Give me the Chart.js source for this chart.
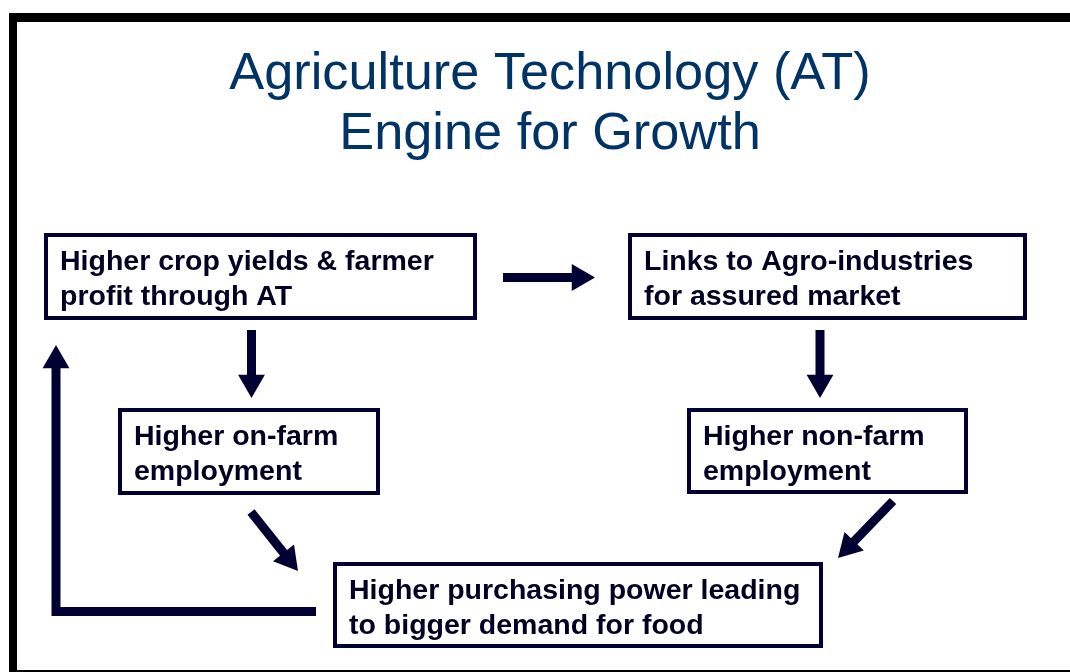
<!DOCTYPE html>
<html>
<head>
<meta charset="utf-8">
<script src="https://cdn.jsdelivr.net/npm/chart.js"></script>
<style>
  html, body { margin: 0; padding: 0; overflow: hidden; background: #fff; }
  /* cadre noir autour de la diapo */
  #cadre { position: absolute; left: 9px; top: 13px; width: 1080px; height: 648px;
           border-top: 9px solid #000; border-left: 8px solid #000; border-bottom: 2px solid #000; }
  #schema { position: absolute; left: 0; top: 0; }
</style>
</head>
<body>
<div id="cadre"></div>
<canvas id="schema" width="1070" height="672"></canvas>
<script>
// titre
const titleLines = ['Agriculture Technology (AT)', 'Engine for Growth'];

// boites du schema (texte + coins, en unites des axes)
const boxLabels = [
  ['Higher crop yields & farmer', 'profit through AT'],
  ['Links to Agro-industries', 'for assured market'],
  ['Higher on-farm', 'employment'],
  ['Higher non-farm', 'employment'],
  ['Higher purchasing power leading', 'to bigger demand for food']
];
const boxLeft = [46, 630, 120, 689, 335];
const boxRight = [475, 1025, 378, 966, 821];
const boxTop = [235, 235, 410, 410, 564];
const boxBottom = [318, 318, 493, 492, 646];

// fleches : liste de sommets, le dernier est la pointe
const arrowPaths = [
  [[503, 277.5], [595, 277.5]],
  [[251.5, 330], [251.5, 398]],
  [[820, 330], [820, 398]],
  [[251, 512], [298, 571]],
  [[893, 501], [838, 558]],
  [[316, 611.5], [56, 611.5], [56, 345]]
];

const navy = '#000033';
const headRadius = 15.5;

const datasets = [];

// contours des boites
boxLeft.forEach((l, i) => {
  datasets.push({
    data: [
      {x: l, y: boxTop[i]},
      {x: boxRight[i], y: boxTop[i]},
      {x: boxRight[i], y: boxBottom[i]},
      {x: l, y: boxBottom[i]},
      {x: l, y: boxTop[i]}
    ],
    showLine: true,
    borderColor: navy,
    borderWidth: 4,
    borderCapStyle: 'square',
    borderJoinStyle: 'miter',
    pointRadius: 0
  });
});

// fleches : trait + triangle au bout
arrowPaths.forEach((path) => {
  const n = path.length;
  const [tx, ty] = path[n - 1];
  const [px, py] = path[n - 2];
  const len = Math.hypot(tx - px, ty - py);
  const ux = (tx - px) / len;
  const uy = (ty - py) / len;
  const pts = path.slice(0, n - 1).map((p) => ({x: p[0], y: p[1]}));
  // centre du triangle recule d'un rayon par rapport a la pointe
  pts.push({x: tx - ux * headRadius, y: ty - uy * headRadius});
  const angle = Math.atan2(ux, -uy) * 180 / Math.PI;
  datasets.push({
    data: pts,
    showLine: true,
    borderColor: navy,
    borderWidth: 9,
    borderJoinStyle: 'miter',
    borderCapStyle: 'butt',
    pointStyle: 'triangle',
    pointRadius: pts.map((p, i) => (i === pts.length - 1 ? headRadius : 0)),
    pointRotation: angle,
    pointBackgroundColor: navy,
    pointBorderWidth: 0
  });
});

// texte dans les boites
const textesBoites = {
  id: 'textesBoites',
  afterDatasetsDraw(chart) {
    const ctx = chart.ctx;
    const xs = chart.scales.x;
    const ys = chart.scales.y;
    ctx.save();
    ctx.font = 'bold 28.5px Arial, "Liberation Sans", sans-serif';
    ctx.fillStyle = '#000022';
    ctx.textBaseline = 'alphabetic';
    boxLabels.forEach((lines, i) => {
      const x0 = xs.getPixelForValue(boxLeft[i]) + 14;
      const y0 = ys.getPixelForValue(boxTop[i]) + 35;
      lines.forEach((line, j) => ctx.fillText(line, x0, y0 + j * 34.5));
    });
    ctx.restore();
  }
};

const config = {
  type: 'scatter',
  data: {datasets: datasets},
  options: {
    responsive: false,
    animation: false,
    events: [],
    layout: {autoPadding: false, padding: {left: 30}},
    plugins: {
      legend: {display: false},
      tooltip: {enabled: false},
      title: {
        display: true,
        text: titleLines,
        color: '#003366',
        font: {family: 'Arial, "Liberation Sans", sans-serif', size: 52.3, weight: 'normal', lineHeight: '60px'},
        padding: {top: 45, bottom: 35}
      }
    },
    scales: {
      x: {type: 'linear', display: false, min: 30, max: 1070},
      y: {display: false, min: 200, max: 672, reverse: true}
    }
  },
  plugins: [textesBoites]
};

const ctx = document.getElementById('schema').getContext('2d');
const schema = new Chart(ctx, config);
</script>
</body>
</html>
